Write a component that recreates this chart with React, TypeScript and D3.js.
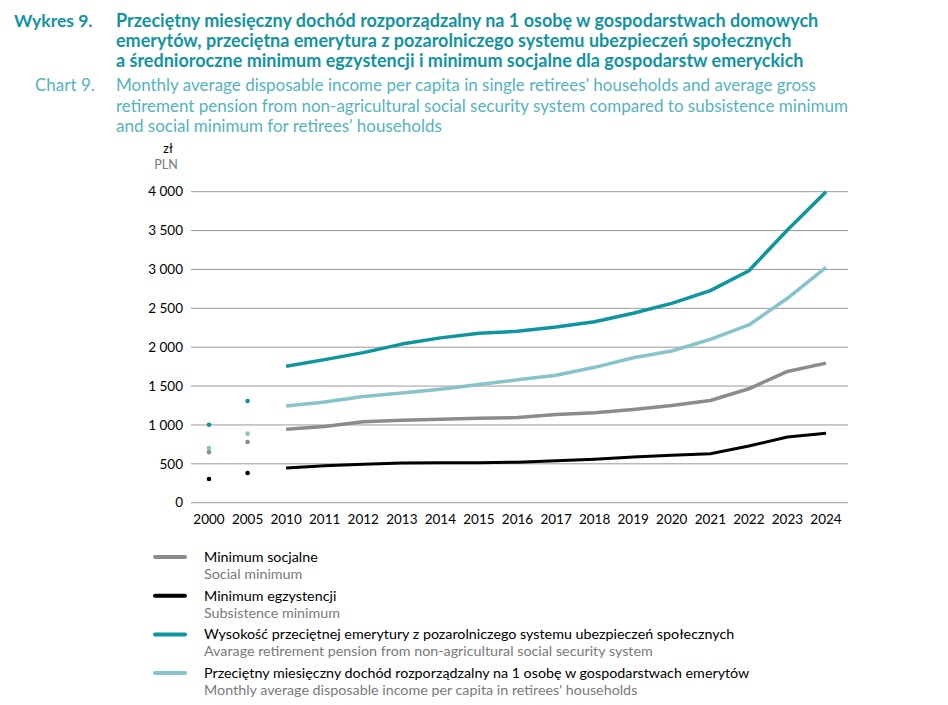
import React from 'react';
import * as d3 from 'd3';

// categories on the x axis
const years = ['2000', '2005', '2010', '2011', '2012', '2013', '2014', '2015', '2016', '2017', '2018', '2019', '2020', '2021', '2022', '2023', '2024'];

// 2000 and 2005 are shown as lone dots, 2010-2024 as lines
const socialMin = [650, 780, 945, 980, 1040, 1060, 1072, 1085, 1095, 1135, 1157, 1200, 1250, 1315, 1465, 1688, 1795];
const subsistenceMin = [305, 382, 446, 475, 495, 510, 515, 515, 520, 540, 560, 588, 610, 630, 729, 845, 892];
const pension = [1003, 1308, 1755, 1840, 1930, 2040, 2120, 2180, 2205, 2260, 2328, 2436, 2564, 2727, 2984, 3507, 4000];
const income = [703, 888, 1245, 1295, 1365, 1410, 1460, 1520, 1580, 1640, 1741, 1865, 1951, 2101, 2286, 2629, 3027];

const yTicks = [0, 500, 1000, 1500, 2000, 2500, 3000, 3500, 4000];

const titlePl = [
  'Przeciętny miesięczny dochód rozporządzalny na 1 osobę w gospodarstwach domowych',
  'emerytów, przeciętna emerytura z pozarolniczego systemu ubezpieczeń społecznych',
  'a średnioroczne minimum egzystencji i minimum socjalne dla gospodarstw emeryckich',
];
const titleEn = [
  'Monthly average disposable income per capita in single retirees’ households and average gross',
  'retirement pension from non-agricultural social security system compared to subsistence minimum',
  'and social minimum for retirees’ households',
];

const series = [
  { name: 'Minimum socjalne', sub: 'Social minimum', values: socialMin, color: '#8c8c8c', width: 3.5 },
  { name: 'Minimum egzystencji', sub: 'Subsistence minimum', values: subsistenceMin, color: '#000000', width: 3 },
  { name: 'Wysokość przeciętnej emerytury z pozarolniczego systemu ubezpieczeń społecznych', sub: 'Avarage retirement pension from non-agricultural social security system', values: pension, color: '#0e959f', width: 3.5 },
  { name: 'Przeciętny miesięczny dochód rozporządzalny na 1 osobę w gospodarstwach emerytów', sub: "Monthly average disposable income per capita in retirees' households", values: income, color: '#86c4ca', width: 3.5 },
];

const W = 948;
const H = 705;
const FONT = 'Lato, "Open Sans", sans-serif';

export default function App() {
  const x = d3.scalePoint<string>().domain(years).range([209, 826]);
  const y = d3.scaleLinear().domain([0, 4000]).range([502.7, 191.7]);
  const fmt = (v: number) => (v >= 1000 ? `${Math.floor(v / 1000)} ${String(v % 1000).padStart(3, '0')}` : String(v));

  const line = d3.line<[string, number]>()
    .x(d => x(d[0]) as number)
    .y(d => y(d[1]));

  // draw order: pension and income on top
  const drawOrder = [series[1], series[0], series[3], series[2]];

  return (
    <svg width={W} height={H} style={{ position: 'absolute', left: 0, top: 0 }} fontFamily={FONT}>
      <rect width={W} height={H} fill="#ffffff" />

      {/* titles */}
      <text x={14} y={27} fontSize={17.5} fontWeight="bold" fill="#1294a0">Wykres 9.</text>
      {titlePl.map((t, i) => (
        <text key={t} x={116} y={27 + i * 20} fontSize={18} fontWeight="bold" fill="#1294a0">{t}</text>
      ))}
      <text x={35} y={91} fontSize={17} fill="#55b3bd">Chart 9.</text>
      {titleEn.map((t, i) => (
        <text key={t} x={116} y={91 + i * 20.5} fontSize={17} fill="#55b3bd">{t}</text>
      ))}

      {/* unit */}
      <text x={168} y={153} fontSize={12.5} textAnchor="middle" fill="#000">zł</text>
      <text x={166} y={169} fontSize={12.5} textAnchor="middle" fill="#777">PLN</text>

      {/* grid */}
      {yTicks.map(t => (
        <g key={t}>
          <line x1={191} x2={848} y1={y(t)} y2={y(t)} stroke="#9a9a9a" strokeWidth={1} />
          <text x={183} y={y(t)} dy="0.35em" textAnchor="end" fontSize={13.5} fill="#000">{fmt(t)}</text>
        </g>
      ))}

      {/* x labels */}
      {years.map(yr => (
        <text key={yr} x={x(yr)} y={524} textAnchor="middle" fontSize={13.5} fill="#000">{yr}</text>
      ))}

      {/* lines and dots */}
      {drawOrder.map(s => {
        const pts = years.map((yr, i) => [yr, s.values[i]] as [string, number]);
        return (
          <g key={s.name}>
            <path d={line(pts.slice(2)) || ''} fill="none" stroke={s.color} strokeWidth={s.width} strokeLinejoin="round" />
            {pts.slice(0, 2).map(p => (
              <circle key={p[0]} cx={x(p[0])} cy={y(p[1])} r={2.3} fill={s.color} />
            ))}
          </g>
        );
      })}

      {/* legend */}
      {series.map((s, i) => {
        const top = 557 + i * 38.7;
        return (
          <g key={s.name}>
            <line x1={155} x2={185} y1={top} y2={top} stroke={s.color} strokeWidth={4} strokeLinecap="round" />
            <text x={204} y={top} dy="0.35em" fontSize={14.3} fill="#000">{s.name}</text>
            <text x={204} y={top + 17} dy="0.35em" fontSize={14.3} fill="#7a7a7a">{s.sub}</text>
          </g>
        );
      })}
    </svg>
  );
}
